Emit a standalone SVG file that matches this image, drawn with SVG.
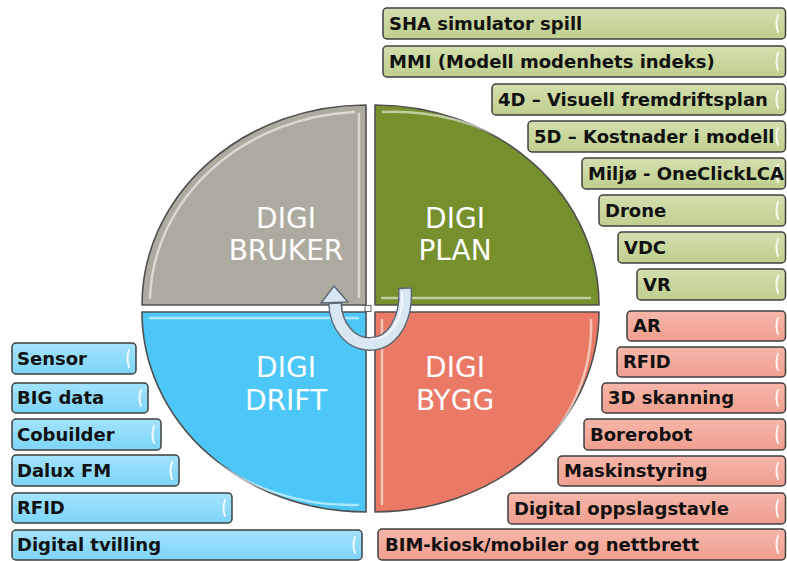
<svg xmlns="http://www.w3.org/2000/svg" width="787" height="561" viewBox="0 0 787 561">
<defs>
<linearGradient id="gG" x1="0" y1="0" x2="0" y2="1"><stop offset="0" stop-color="#d3dfae"/><stop offset="1" stop-color="#bfcf8e"/></linearGradient>
<linearGradient id="gR" x1="0" y1="0" x2="0" y2="1"><stop offset="0" stop-color="#f6b6a9"/><stop offset="1" stop-color="#ef9f8f"/></linearGradient>
<linearGradient id="gB" x1="0" y1="0" x2="0" y2="1"><stop offset="0" stop-color="#a3e3fc"/><stop offset="1" stop-color="#7dd4f8"/></linearGradient>
</defs>
<style>
.q{stroke:#505050;stroke-width:1.6;stroke-linejoin:round}
.hl{fill:none;stroke:#ffffff;stroke-width:2.5;stroke-linecap:round;opacity:0.55}
.qt{font-family:"DejaVu Sans","Verdana",sans-serif;font-size:28px;fill:#ffffff;text-anchor:middle}
.b{stroke:#3f3f3f;stroke-width:1.5}
.bg{fill:url(#gG)}
.br{fill:url(#gR)}
.bb{fill:url(#gB)}
.gl{fill:none;stroke:#ffffff;stroke-width:2;stroke-linecap:round;opacity:0.85}
.t{font-family:"DejaVu Sans","Verdana",sans-serif;font-weight:bold;font-size:18px;fill:#111111}
</style>
<rect width="787" height="561" fill="#ffffff"/>

<g id="digi-bruker">
<path class="q" d="M366 305 L142 305 A224 200 0 0 1 366 105 Z" fill="#adab9f"/>
<path class="hl" d="M359 114 L359 297"/>
<path class="hl" d="M150 298 A216 192 0 0 1 354 112" opacity="0.3"/>
<text class="qt" x="286" y="228">DIGI</text>
<text class="qt" x="286" y="260">BRUKER</text>
</g>

<g id="digi-plan">
<path class="q" d="M375 305 L375 105 A224 200 0 0 1 599 305 Z" fill="#76902e"/>
<path class="hl" d="M383 112 A216 192 0 0 1 520 148" stroke="#e8f0c8" opacity="0.8"/>
<path class="hl" d="M382 298 L590 298" stroke="#c8dc90" opacity="0.7"/>
<text class="qt" x="455" y="228">DIGI</text>
<text class="qt" x="455" y="260">PLAN</text>
</g>

<g id="digi-drift">
<path class="q" d="M366 312 L366 512 A224 200 0 0 1 142 312 Z" fill="#4dc7f8"/>
<path class="hl" d="M150 318 L358 318" opacity="0.6"/>
<path class="hl" d="M200 450 A216 192 0 0 0 358 505" opacity="0.6"/>
<text class="qt" x="286" y="377">DIGI</text>
<text class="qt" x="286" y="410">DRIFT</text>
</g>

<g id="digi-bygg">
<path class="q" d="M375 312 L599 312 A224 200 0 0 1 375 512 Z" fill="#ea7a65"/>
<path class="hl" d="M382 320 L382 504" opacity="0.6"/>
<path class="hl" d="M591 320 A216 192 0 0 1 530 460" opacity="0.6"/>
<text class="qt" x="455" y="377">DIGI</text>
<text class="qt" x="455" y="410">BYGG</text>
</g>

<rect x="365" y="305.5" width="6" height="6" fill="#ffffff" stroke="#606060" stroke-width="1"/>

<g id="connectors">
<path d="M405 287.5 L405 289 C407 320 392 344 370 344 C350 344 336 326 335 303" fill="none" stroke="#5d6a76" stroke-width="14"/>
<polygon points="334,286 321,303 348,302" fill="#d9e7f3" stroke="#5d6a76" stroke-width="1.5" stroke-linejoin="round"/>
<path d="M405 289 C407 320 392 344 370 344 C350 344 336 326 335 304" fill="none" stroke="#d9e7f3" stroke-width="11"/>
<path d="M402 292 C404 318 392 339 370 339" fill="none" stroke="#ffffff" stroke-width="2" opacity="0.7"/>
</g>

<g id="sha"><rect class="b bg" x="383" y="8" width="402.5" height="31" rx="4"/><path class="gl" d="M778 15 Q775 23.5 778 32"/><text class="t" x="389" y="30">SHA simulator spill</text></g>
<g id="mmi"><rect class="b bg" x="383" y="46" width="402.5" height="31" rx="4"/><path class="gl" d="M778 53 Q775 61.5 778 70"/><text class="t" x="389" y="68">MMI (Modell modenhets indeks)</text></g>
<g id="4d"><rect class="b bg" x="492" y="84" width="293.5" height="31" rx="4"/><path class="gl" d="M778 91 Q775 99.5 778 108"/><text class="t" x="498" y="106">4D – Visuell fremdriftsplan</text></g>
<g id="5d"><rect class="b bg" x="528" y="121" width="257.5" height="31" rx="4"/><path class="gl" d="M778 128 Q775 136.5 778 145"/><text class="t" x="534" y="143">5D – Kostnader i modell</text></g>
<g id="miljo"><rect class="b bg" x="582" y="158" width="203.5" height="31" rx="4"/><path class="gl" d="M778 165 Q775 173.5 778 182"/><text class="t" x="588" y="180">Miljø - OneClickLCA</text></g>
<g id="drone"><rect class="b bg" x="599" y="195" width="186.5" height="31" rx="4"/><path class="gl" d="M778 202 Q775 210.5 778 219"/><text class="t" x="605" y="217">Drone</text></g>
<g id="vdc"><rect class="b bg" x="618" y="232" width="167.5" height="31" rx="4"/><path class="gl" d="M778 239 Q775 247.5 778 256"/><text class="t" x="624" y="254">VDC</text></g>
<g id="vr"><rect class="b bg" x="637" y="269" width="148.5" height="31" rx="4"/><path class="gl" d="M778 276 Q775 284.5 778 293"/><text class="t" x="643" y="291">VR</text></g>

<g id="ar"><rect class="b br" x="627" y="311" width="158.5" height="30" rx="4"/><path class="gl" d="M778 318 Q775 326 778 334"/><text class="t" x="633" y="332">AR</text></g>
<g id="rfid-bygg"><rect class="b br" x="617" y="347" width="168.5" height="30" rx="4"/><path class="gl" d="M778 354 Q775 362 778 370"/><text class="t" x="623" y="368">RFID</text></g>
<g id="skanning"><rect class="b br" x="602" y="383" width="183.5" height="30" rx="4"/><path class="gl" d="M778 390 Q775 398 778 406"/><text class="t" x="608" y="404">3D skanning</text></g>
<g id="borerobot"><rect class="b br" x="584" y="419" width="201.5" height="31" rx="4"/><path class="gl" d="M778 426 Q775 434.5 778 443"/><text class="t" x="590" y="441">Borerobot</text></g>
<g id="maskinstyring"><rect class="b br" x="558" y="456" width="227.5" height="30" rx="4"/><path class="gl" d="M778 463 Q775 471 778 479"/><text class="t" x="564" y="477">Maskinstyring</text></g>
<g id="oppslagstavle"><rect class="b br" x="508" y="493" width="277.5" height="31" rx="4"/><path class="gl" d="M778 500 Q775 508.5 778 517"/><text class="t" x="514" y="515">Digital oppslagstavle</text></g>
<g id="bim-kiosk"><rect class="b br" x="378" y="529" width="407.5" height="31" rx="4"/><path class="gl" d="M778 536 Q775 544.5 778 553"/><text class="t" x="385" y="551">BIM-kiosk/mobiler og nettbrett</text></g>

<g id="sensor"><rect class="b bb" x="12" y="343" width="124" height="31" rx="4"/><path class="gl" d="M129 350 Q126 358.5 129 367"/><text class="t" x="17" y="365">Sensor</text></g>
<g id="big-data"><rect class="b bb" x="12" y="383" width="136" height="30" rx="4"/><path class="gl" d="M141 390 Q138 398 141 406"/><text class="t" x="17" y="404">BIG data</text></g>
<g id="cobuilder"><rect class="b bb" x="12" y="419" width="149" height="31" rx="4"/><path class="gl" d="M154 426 Q151 434.5 154 443"/><text class="t" x="17" y="441">Cobuilder</text></g>
<g id="dalux"><rect class="b bb" x="12" y="455" width="167" height="31" rx="4"/><path class="gl" d="M172 462 Q169 470.5 172 479"/><text class="t" x="17" y="477">Dalux FM</text></g>
<g id="rfid-drift"><rect class="b bb" x="12" y="493" width="220" height="30" rx="4"/><path class="gl" d="M225 500 Q222 508 225 516"/><text class="t" x="17" y="514">RFID</text></g>
<g id="tvilling"><rect class="b bb" x="12" y="530" width="350" height="30" rx="4"/><path class="gl" d="M355 537 Q352 545 355 553"/><text class="t" x="17" y="551">Digital tvilling</text></g>
</svg>
